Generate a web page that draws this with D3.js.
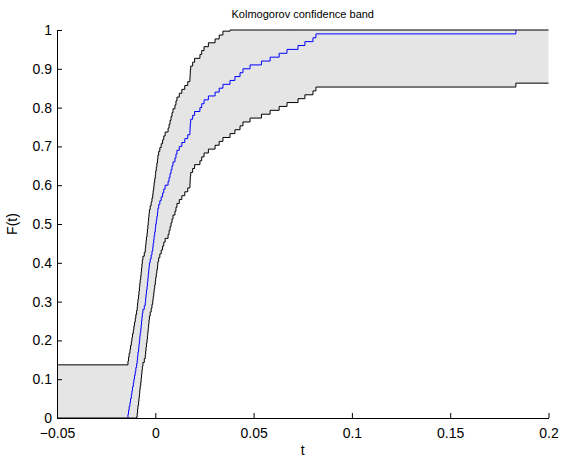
<!DOCTYPE html>
<html>
<head>
<meta charset="utf-8">
<script src="https://cdn.jsdelivr.net/npm/d3@7"></script>
<style>
  body { margin: 0; background: #fff; }
  text { font-family: "Liberation Sans", Arial, sans-serif; }
</style>
</head>
<body>
<svg id="chart" width="561" height="460"></svg>
<script>
/* ---- data: sorted sample times (empirical CDF, n = 100) ---------- */
const samples = [
  -0.0139, -0.0136, -0.0133, -0.0129, -0.0126, -0.0122, -0.0119, -0.0116, -0.0112, -0.0109,
  -0.0106, -0.0102, -0.0099, -0.0095, -0.0092, -0.0090, -0.0088, -0.0085, -0.0083, -0.0081,
  -0.0079, -0.0077, -0.0074, -0.0072, -0.0070, -0.0068, -0.0066, -0.0063, -0.0056, -0.0051,
  -0.0049, -0.0047, -0.0045, -0.0042, -0.0040, -0.0038, -0.0036, -0.0034, -0.0032, -0.0030,
  -0.0026, -0.0021, -0.0017, -0.0013, -0.0011, -0.0008, -0.0006, -0.0003, 0.0000, 0.0002,
  0.0005, 0.0008, 0.0011, 0.0013, 0.0017, 0.0023, 0.0030, 0.0037, 0.0043, 0.0050,
  0.0065, 0.0070, 0.0075, 0.0080, 0.0085, 0.0090, 0.0100, 0.0105, 0.0110, 0.0122,
  0.0135, 0.0150, 0.0165, 0.0176, 0.0177, 0.0178, 0.0180, 0.0190, 0.0200, 0.0227,
  0.0236, 0.0248, 0.0270, 0.0304, 0.0325, 0.0344, 0.0380, 0.0405, 0.0431, 0.0446,
  0.0482, 0.0540, 0.0584, 0.0630, 0.0670, 0.0726, 0.0761, 0.0802, 0.0817, 0.1834
];
const bandHalfWidth = 0.137;           // Kolmogorov critical value
const xDomain = [-0.05, 0.2];
const yDomain = [0, 1];
const xTicks  = [-0.05, 0, 0.05, 0.1, 0.15, 0.2];
const yTicks  = [0, 0.1, 0.2, 0.3, 0.4, 0.5, 0.6, 0.7, 0.8, 0.9, 1];
const titleText = "Kolmogorov confidence band";
const xLabel = "t";
const yLabel = "F(t)";

/* ---- layout ------------------------------------------------------ */
const margin = { top: 30, right: 11, bottom: 42, left: 57 };
const W = 561, H = 460;
const svg = d3.select("#chart");

const x = d3.scaleLinear(xDomain, [margin.left, W - margin.right - 1.5]);
const y = d3.scaleLinear(yDomain, [H - margin.bottom, margin.top]);

/* ---- ECDF and band ----------------------------------------------- */
const n = samples.length;
const ecdf = samples.map((t, i) => ({ t, F: (i + 1) / n }));
const bandPts = [{ t: xDomain[0], F: 0 }, ...ecdf, { t: xDomain[1], F: 1 }]
  .map(d => ({
    t: d.t,
    lo: Math.max(0, d.F - bandHalfWidth),
    hi: Math.min(1, d.F + bandHalfWidth)
  }));

const area = d3.area()
  .curve(d3.curveStepAfter)
  .x(d => x(d.t))
  .y0(d => y(d.lo))
  .y1(d => y(d.hi));

svg.append("path")
  .datum(bandPts)
  .attr("fill", "#e5e5e5")
  .attr("d", area);

/* ---- blue ECDF --------------------------------------------------- */
const ecdfLine = d3.line()
  .curve(d3.curveStepAfter)
  .x(d => x(d.t))
  .y(d => y(d.F));

svg.append("path")
  .datum([{ t: samples[0], F: 0 }, ...ecdf])
  .attr("fill", "none")
  .attr("stroke", "#0000ff")
  .attr("stroke-width", 1)
  .attr("d", ecdfLine);

/* ---- band edges -------------------------------------------------- */
const edge = key => d3.line()
  .curve(d3.curveStepAfter)
  .x(d => x(d.t))
  .y(d => y(d[key]));

["hi", "lo"].forEach(k =>
  svg.append("path")
    .datum(bandPts)
    .attr("fill", "none")
    .attr("stroke", "#000")
    .attr("stroke-width", 1)
    .attr("d", edge(k)));

/* ---- axes (ticks inward, no box) --------------------------------- */
const fmt = d => d === 0 ? "0" : (d < 0 ? "\u2212" + Math.abs(d) : String(d));

const xAxis = svg.append("g")
  .attr("transform", `translate(0,${y(0)})`)
  .call(d3.axisBottom(x).tickValues(xTicks).tickFormat(fmt).tickSizeInner(-5).tickSizeOuter(0).tickPadding(10));

const yAxis = svg.append("g")
  .attr("transform", `translate(${x(xDomain[0])},0)`)
  .call(d3.axisLeft(y).tickValues(yTicks).tickFormat(d3.format("")).tickSizeInner(-5).tickSizeOuter(0).tickPadding(5));

[xAxis, yAxis].forEach(g => {
  g.selectAll("text").attr("font-size", 14).attr("fill", "#000")
    .attr("font-family", "Liberation Sans, Arial, sans-serif");
  g.selectAll("line, path").attr("stroke", "#000");
});

/* ---- labels ------------------------------------------------------ */
svg.append("text")
  .attr("x", (x(xDomain[0]) + x(xDomain[1])) / 2)
  .attr("y", 18)
  .attr("text-anchor", "middle")
  .attr("font-size", 11)
  .text(titleText);

svg.append("text")
  .attr("x", (x(xDomain[0]) + x(xDomain[1])) / 2)
  .attr("y", 455)
  .attr("text-anchor", "middle")
  .attr("font-size", 14)
  .text(xLabel);

svg.append("text")
  .attr("transform", `translate(17,${(y(0) + y(1)) / 2}) rotate(-90)`)
  .attr("text-anchor", "middle")
  .attr("font-size", 14)
  .text(yLabel);
</script>
</body>
</html>
